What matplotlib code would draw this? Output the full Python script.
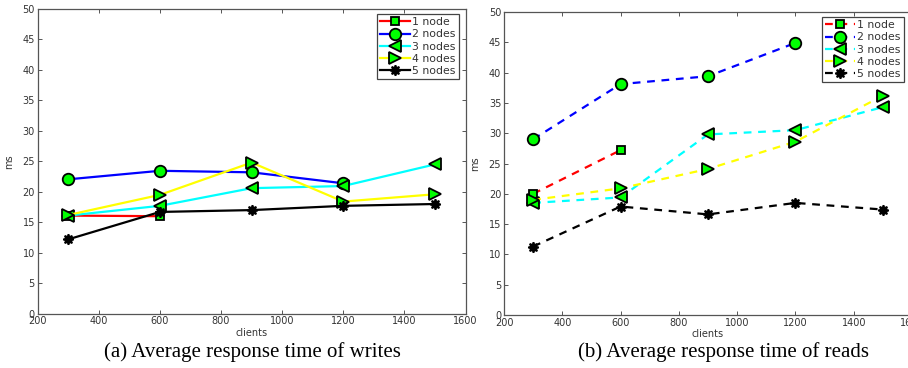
import matplotlib
matplotlib.use("Agg")
import matplotlib.pyplot as plt

clients = [300, 600, 900, 1200, 1500]
labels = ["1 node", "2 nodes", "3 nodes", "4 nodes", "5 nodes"]

writes_1 = [16.1, 16.0]
writes_2 = [22.05, 23.45, 23.2, 21.4]
writes_3 = [16.1, 17.7, 20.6, 20.95, 24.5]
writes_4 = [16.2, 19.5, 24.8, 18.4, 19.6]
writes_5 = [12.2, 16.7, 17.0, 17.7, 18.0]

reads_1 = [20.0, 27.2]
reads_2 = [29.0, 38.1, 39.4, 44.9]
reads_3 = [18.5, 19.4, 29.8, 30.5, 34.3]
reads_4 = [19.0, 20.9, 24.1, 28.6, 36.2]
reads_5 = [11.3, 17.9, 16.6, 18.5, 17.4]

x_ticks = [200, 400, 600, 800, 1000, 1200, 1400, 1600]
y_ticks = [0, 5, 10, 15, 20, 25, 30, 35, 40, 45, 50]

colors = ["#ff0000", "#0000ff", "#00ffff", "#ffff00", "#000000"]
markers = ["s", "o", "<", ">", (8, 1, 0)]
msizes = [6, 8.3, 8.5, 8.5, 7.5]
mfc = ["#00ff00", "#00ff00", "#00ff00", "#00ff00", "#000000"]

W, H = 908, 368
fig = plt.figure(figsize=(W / 100, H / 100), dpi=100)

def add_ax(l, r, t, b):
    return fig.add_axes([l / W, 1 - b / H, (r - l) / W, (b - t) / H])

ax1 = add_ax(37.7, 465.5, 9, 313.7)
ax2 = add_ax(504, 912, 12, 315)

gray = "#555555"

def draw(ax, series, ls, lw, leg_box):
    for i, ys in enumerate(series):
        kw = dict(color=colors[i], lw=lw, marker=markers[i], ms=msizes[i],
                  mfc=mfc[i], mec="black", mew=1.3, label=labels[i])
        if ls == "--":
            ax.plot(clients[:len(ys)], ys, linestyle=(0, (3.5, 3)), **kw)
        else:
            ax.plot(clients[:len(ys)], ys, linestyle="-", **kw)
    ax.set_xlim(200, 1600)
    ax.set_ylim(0, 50)
    ax.set_xticks(x_ticks)
    ax.set_yticks(y_ticks)
    ax.tick_params(direction="in", top=True, right=True, length=3, width=0.7,
                   labelsize=7, colors=gray, labelcolor="#333333", pad=2)
    for s in ax.spines.values():
        s.set_color(gray)
        s.set_linewidth(0.9)
    ax.set_xlabel("clients", fontsize=7, color="#333333", labelpad=1)
    ax.set_ylabel("ms", fontsize=7, color="#333333", labelpad=6)
    rx, ty = leg_box
    leg = ax.legend(loc="upper right", fontsize=7.8, handlelength=2.8,
                    handletextpad=0.2, labelspacing=0.2, borderpad=0.3,
                    borderaxespad=0.0, fancybox=False, framealpha=1,
                    bbox_to_anchor=(rx / W, 1 - ty / H),
                    bbox_transform=fig.transFigure)
    leg.get_frame().set_edgecolor("#444444")
    leg.get_frame().set_linewidth(0.9)
    for t in leg.get_texts():
        t.set_color("#333333")

draw(ax1, [writes_1, writes_2, writes_3, writes_4, writes_5], "-", 1.6,
     (459, 14))
draw(ax2, [reads_1, reads_2, reads_3, reads_4, reads_5], "--", 1.6,
     (904, 17))

fig.text(252 / W, 1 - 352 / H, "(a) Average response time of writes",
         ha="center", va="center", fontsize=15, family="Liberation Serif")
fig.text(724 / W, 1 - 352 / H, "(b) Average response time of reads",
         ha="center", va="center", fontsize=15, family="Liberation Serif")

fig.savefig("out.png", dpi=100)
